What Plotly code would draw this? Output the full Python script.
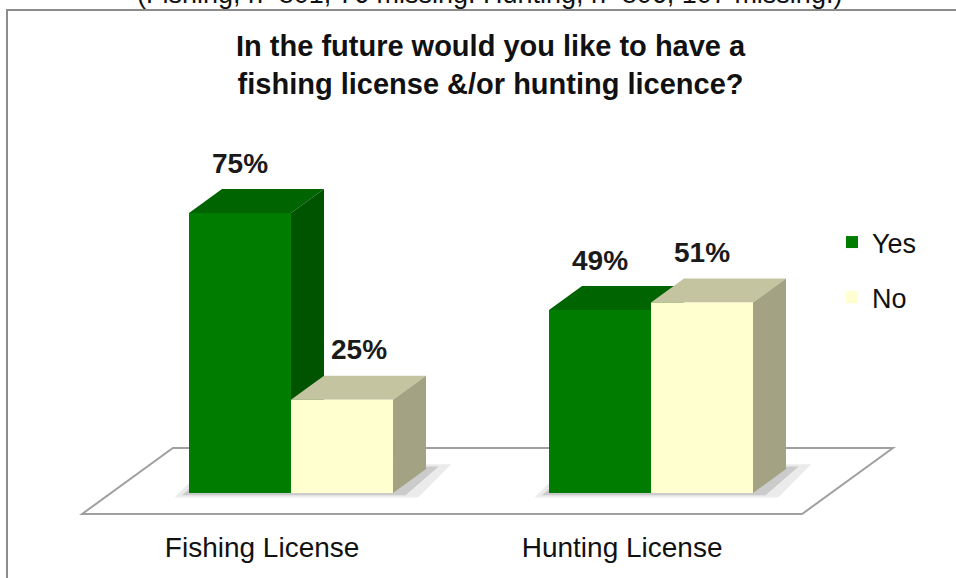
import plotly.graph_objects as go

# ---- data ----
categories = ["Fishing License", "Hunting License"]
series_names = ["Yes", "No"]
yes_values = [75, 49]
no_values = [25, 51]
title_text = "In the future would you like to have a<br>fishing license &/or hunting licence?"
note_text = "(Fishing, n=801, 76 missing. Hunting, n=806, 107 missing.)"

# ---- styling / geometry constants ----
W, H = 956, 578
FONT = "Liberation Sans, Arial, Helvetica, sans-serif"
X_RANGE = [-0.8083, 1.8472]
Y_RANGE = [-22.77, 132.06]
BAR_W = 0.2833            # width of one bar in category units
DX, DY = 0.0917, 6.43     # 3-D depth offset (x units, y units)
FLOOR_FRONT, FLOOR_BACK = -0.875, 1.875

face = {
    "Yes": {"front": "#007c00", "top": "#006400", "side": "#005400"},
    "No": {"front": "#ffffd0", "top": "#c4c4a1", "side": "#a3a384"},
}

xs = list(range(len(categories)))
fig = go.Figure()

shapes = []

# border of chart area
shapes.append(dict(type="rect", xref="paper", yref="paper",
                   x0=7 / W, x1=1.2, y0=-0.2, y1=1 - 10 / H,
                   line=dict(color="#8c8c8c", width=2), fillcolor="rgba(0,0,0,0)",
                   layer="below"))

# floor
fl = -0.5 + DX * FLOOR_FRONT
fr = len(categories) - 0.5 + DX * FLOOR_FRONT
bl = -0.5 + DX * FLOOR_BACK
br = len(categories) - 0.5 + DX * FLOOR_BACK
yf, yb = DY * FLOOR_FRONT, DY * FLOOR_BACK
shapes.append(dict(type="path", xref="x", yref="y",
                   path=f"M{fl},{yf} L{fr},{yf} L{br},{yb} L{bl},{yb} Z",
                   fillcolor="white", line=dict(color="#a0a0a0", width=2),
                   layer="below"))

# soft shadows under each group
for i in xs:
    gl = i - BAR_W
    gr = i + BAR_W
    for k, op in [(1.0, 0.10), (0.5, 0.18)]:
        x0 = gl - 0.04 * k
        x1 = gr + DX + 0.07 * k
        y0 = -1.2 * k
        y1 = DY * (1.0 + 0.2 * k)
        shapes.append(dict(type="path", xref="x", yref="y",
                           path=f"M{x0},{y0} L{x1 - DX},{y0} L{x1},{y1} L{x0 + DX},{y1} Z",
                           fillcolor=f"rgba(60,60,60,{op})", line=dict(width=0),
                           layer="below"))

# 3-D top and side faces, painter's order (Yes then No within each category)
for i in xs:
    for name, vals, off in [("Yes", yes_values, -BAR_W), ("No", no_values, 0.0)]:
        v = vals[i]
        xl = i + off
        xr = xl + BAR_W
        shapes.append(dict(type="path", xref="x", yref="y",
                           path=f"M{xl},{v} L{xr},{v} L{xr + DX},{v + DY} L{xl + DX},{v + DY} Z",
                           fillcolor=face[name]["top"], line=dict(width=0), layer="below"))
        shapes.append(dict(type="path", xref="x", yref="y",
                           path=f"M{xr},0 L{xr},{v} L{xr + DX},{v + DY} L{xr + DX},{DY} Z",
                           fillcolor=face[name]["side"], line=dict(width=0), layer="below"))

# front faces as real bars
fig.add_trace(go.Bar(name="Yes", x=xs, y=yes_values, width=BAR_W, offset=-BAR_W,
                     marker=dict(color=face["Yes"]["front"], line=dict(width=0)),
                     legendgroup="yes", hoverinfo="skip"))
fig.add_trace(go.Bar(name="No", x=xs, y=no_values, width=BAR_W, offset=0,
                     marker=dict(color=face["No"]["front"], line=dict(width=0)),
                     legendgroup="no", hoverinfo="skip"))

annotations = []
for i in xs:
    for vals, off in [(yes_values, -BAR_W / 2), (no_values, BAR_W / 2)]:
        xsh = 17 if vals[i] < 30 else 0
        annotations.append(dict(x=i + off, y=vals[i], xref="x", yref="y",
                                text=f"<b>{vals[i]}%</b>", showarrow=False,
                                yshift=50, xshift=xsh,
                                font=dict(family=FONT, size=28, color="#1a1a1a")))

annotations.append(dict(x=491 / W, y=1 - 65 / H, xref="paper", yref="paper",
                        text=f"<b>{title_text}</b>", showarrow=False,
                        font=dict(family=FONT, size=29, color="#111111"),
                        xanchor="center", yanchor="middle"))
annotations.append(dict(x=489 / W, y=1 + 6 / H, xref="paper", yref="paper",
                        text=note_text, showarrow=False,
                        font=dict(family=FONT, size=27, color="#111111"),
                        xanchor="center", yanchor="middle"))

fig.update_layout(
    width=W, height=H,
    margin=dict(l=0, r=0, t=0, b=0),
    paper_bgcolor="white", plot_bgcolor="white",
    barmode="overlay",
    shapes=shapes,
    annotations=annotations,
    showlegend=True,
    legend=dict(x=832 / W, y=1 - 218 / H, xanchor="left", yanchor="top",
                font=dict(family=FONT, size=27, color="#111111"),
                tracegroupgap=17, bgcolor="rgba(0,0,0,0)"),
    xaxis=dict(range=X_RANGE, showgrid=False, zeroline=False, showline=False,
               tickvals=[i + DX * FLOOR_FRONT for i in xs], ticktext=categories,
               ticks="", anchor="free", position=1 - 528 / H,
               tickfont=dict(family=FONT, size=28, color="#111111"), fixedrange=True),
    yaxis=dict(range=Y_RANGE, visible=False, showgrid=False, zeroline=False, fixedrange=True),
)

fig.write_html("out.html", config={"displayModeBar": False},
               post_script="document.body.style.margin='0px';")
